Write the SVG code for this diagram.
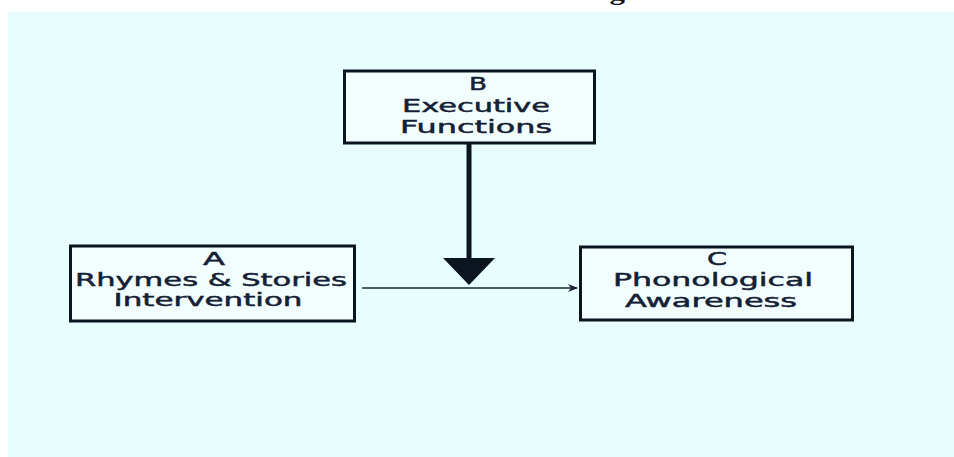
<svg xmlns="http://www.w3.org/2000/svg" width="954" height="457" viewBox="0 0 954 457">
<style>
.box{fill:#F2FEFE;stroke:#0B1520;stroke-width:3}
.lbl{font-family:"DejaVu Sans","Noto Sans",sans-serif;font-size:17px;font-weight:normal;fill:#142034;text-anchor:middle;stroke:#142034;stroke-width:0.45}
.title{font-family:"Liberation Serif",serif;font-size:24px;font-weight:bold;fill:#111}
</style>
<defs>
<marker id="ah" markerWidth="10" markerHeight="8" refX="9" refY="4" orient="auto" markerUnits="userSpaceOnUse">
<path d="M0,0 L10,4 L0,8 L3,4 Z" fill="#1A2430"/>
</marker>
</defs>
<rect x="0" y="0" width="954" height="457" fill="#FFFFFF"/>
<rect x="8" y="12" width="946" height="445" fill="#E8FDFD"/>
<text class="title" x="152" y="0.3" textLength="665" lengthAdjust="spacingAndGlyphs">Between Intervention and Phonological Awareness</text>
<g id="connectors">
<line x1="362" y1="288" x2="577" y2="288" stroke="#1A2430" stroke-width="1.6" marker-end="url(#ah)"/>
<line x1="469" y1="143" x2="469" y2="260" stroke="#0B1520" stroke-width="5"/>
<polygon points="443,258 495,258 469,285" fill="#0B1520"/>
</g>
<g id="node-B">
<rect class="box" x="344.5" y="71" width="250" height="72"/>
<text class="lbl" x="478" y="90" textLength="18" lengthAdjust="spacingAndGlyphs">B</text>
<text class="lbl" x="476" y="112" textLength="148" lengthAdjust="spacingAndGlyphs">Executive</text>
<text class="lbl" x="476" y="133" textLength="152" lengthAdjust="spacingAndGlyphs">Functions</text>
</g>
<g id="node-A">
<rect class="box" x="70.5" y="246" width="284" height="75"/>
<text class="lbl" x="214" y="265" textLength="22" lengthAdjust="spacingAndGlyphs">A</text>
<text class="lbl" x="211" y="286" textLength="272" lengthAdjust="spacingAndGlyphs">Rhymes &amp; Stories</text>
<text class="lbl" x="208" y="306" textLength="189" lengthAdjust="spacingAndGlyphs">Intervention</text>
</g>
<g id="node-C">
<rect class="box" x="580.5" y="247" width="272" height="73"/>
<text class="lbl" x="717" y="265" textLength="20" lengthAdjust="spacingAndGlyphs">C</text>
<text class="lbl" x="713" y="286" textLength="200" lengthAdjust="spacingAndGlyphs">Phonological</text>
<text class="lbl" x="711" y="307" textLength="172" lengthAdjust="spacingAndGlyphs">Awareness</text>
</g>
</svg>
